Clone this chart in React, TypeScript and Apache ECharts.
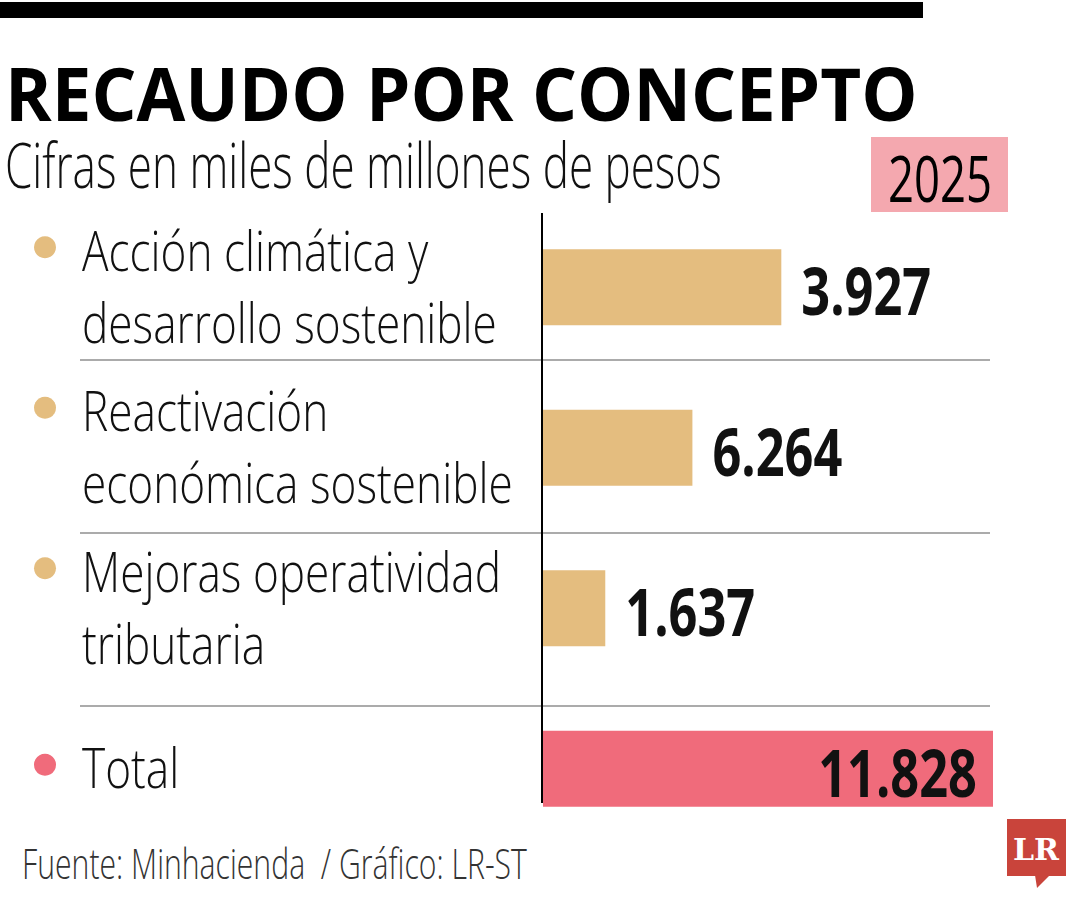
import React, { useEffect, useRef } from "react";
import * as echarts from "echarts";

// ---------- data ----------
const categories = [
  "Acción climática y\ndesarrollo sostenible",
  "Reactivación\neconómica sostenible",
  "Mejoras operatividad\ntributaria",
  "Total",
];
// values printed next to each bar (miles de millones de pesos)
const printedValues = [3927, 6264, 1637, 11828];
// bar lengths as drawn in the reference graphic (the first two rows are drawn
// with each other's lengths relative to their printed labels)
const drawnBarLengths = [6264, 3927, 1637, 11828];

const titleText = "RECAUDO POR CONCEPTO";
const subtitleText = "Cifras en miles de millones de pesos";
const yearText = "2025";
const footerText = "Fuente: Minhacienda  / Gráfico: LR-ST";

const TAN = "#E4BD7F";
const PINK = "#F06B7B";
const barColors = [TAN, TAN, TAN, PINK];

const SANS = "'Open Sans', 'Noto Sans', 'Liberation Sans', sans-serif";

function fmt(n: number): string {
  return String(n).replace(/\B(?=(\d{3})+(?!\d))/g, ".");
}

let ctx: CanvasRenderingContext2D | null = null;
function measure(text: string, font: string): number {
  if (!ctx) ctx = document.createElement("canvas").getContext("2d");
  ctx!.font = font;
  return ctx!.measureText(text).width;
}

export default function App() {
  const ref = useRef<HTMLDivElement>(null);

  useEffect(() => {
    const chart = echarts.init(ref.current!, null, { renderer: "svg" });

    // horizontal condensing factors so the texts take the reference widths
    const labelSize = 56;
    const labelScale = 415 / measure("desarrollo sostenible", `300 ${labelSize}px ${SANS}`);
    const valueSize = 67;
    const valueScale = 130 / measure("3.927", `bold ${valueSize}px ${SANS}`);
    const titleSize = 74;
    const titleScale = 913 / measure(titleText, `bold ${titleSize}px ${SANS}`);
    const subSize = 62;
    const subScale = 717 / measure(subtitleText, `300 ${subSize}px ${SANS}`);
    const yearSize = 64;
    const yearScale = 104 / measure(yearText, `400 ${yearSize}px ${SANS}`);
    const footSize = 42;
    const footScale = 505 / measure(footerText, `300 ${footSize}px ${SANS}`);
    const LINE_H = 72;

    const option: any = {
      animation: false,
      backgroundColor: "#ffffff",
      grid: { left: 543, right: 87, top: 207, bottom: 51, containLabel: false },
      xAxis: { type: "value", min: 0, max: 11828, show: false },
      yAxis: {
        type: "category",
        data: categories,
        inverse: true,
        axisLine: { show: false },
        axisTick: { show: false },
        splitLine: { show: false },
        axisLabel: { show: false },
      },
      series: [
        {
          type: "bar",
          silent: true,
          barWidth: 76,
          data: drawnBarLengths.map((v, i) => ({ value: v, itemStyle: { color: barColors[i] } })),
        },
        {
          // category labels (with bullets) and printed values, placed through the axes
          type: "custom",
          silent: true,
          clip: false,
          z: 5,
          data: drawnBarLengths.map((v, i) => [v, i]),
          encode: { x: 0, y: 1 },
          renderItem: (params: any, api: any) => {
            const i = params.dataIndex;
            const end = api.coord([api.value(0), i]);
            const base = api.coord([0, i]);
            const cy = base[1] - 2;
            const isTotal = i === categories.length - 1;
            const lines = categories[i].split("\n");
            const firstY = cy - ((lines.length - 1) * LINE_H) / 2;
            const children: any[] = [
              {
                type: "circle",
                shape: { cx: base[0] - 498, cy: firstY - 2, r: 11 },
                style: { fill: barColors[i] },
              },
            ];
            lines.forEach((ln, k) => {
              children.push({
                type: "text",
                x: base[0] - 461,
                y: firstY + k * LINE_H,
                scaleX: labelScale,
                style: {
                  text: ln,
                  fontFamily: SANS,
                  fontWeight: 300,
                  fontSize: labelSize,
                  fill: "#111111",
                  align: "left",
                  verticalAlign: "middle",
                },
              });
            });
            children.push({
              type: "text",
              x: isTotal ? end[0] - 16 : end[0] + 20,
              y: base[1] + 2,
              scaleX: valueScale,
              style: {
                text: fmt(printedValues[i]),
                fontFamily: SANS,
                fontWeight: "bold",
                fontSize: valueSize,
                fill: "#111111",
                align: isTotal ? "right" : "left",
                verticalAlign: "middle",
              },
            });
            return { type: "group", children };
          },
        },
      ],
      graphic: [
        { type: "rect", shape: { x: 0, y: 2, width: 923, height: 16 }, style: { fill: "#000000" } },
        {
          type: "text",
          x: 5,
          y: 92,
          scaleX: titleScale,
          style: {
            text: titleText,
            fontFamily: SANS,
            fontWeight: "bold",
            fontSize: titleSize,
            fill: "#000000",
            align: "left",
            verticalAlign: "middle",
          },
        },
        {
          type: "text",
          x: 5,
          y: 164,
          scaleX: subScale,
          style: {
            text: subtitleText,
            fontFamily: SANS,
            fontWeight: 300,
            fontSize: subSize,
            fill: "#111111",
            align: "left",
            verticalAlign: "middle",
          },
        },
        { type: "rect", shape: { x: 871, y: 137, width: 137, height: 75 }, style: { fill: "#F4A8AF" } },
        {
          type: "text",
          x: 940,
          y: 177,
          scaleX: yearScale,
          style: {
            text: yearText,
            fontFamily: SANS,
            fontWeight: 400,
            fontSize: yearSize,
            fill: "#000000",
            align: "center",
            verticalAlign: "middle",
          },
        },
        ...[360, 533, 706].map((y) => ({
          type: "line",
          shape: { x1: 80, y1: y, x2: 990, y2: y },
          style: { stroke: "#ABABAB", lineWidth: 2 },
        })),
        {
          type: "line",
          z: 10,
          shape: { x1: 542, y1: 213, x2: 542, y2: 803 },
          style: { stroke: "#000000", lineWidth: 2 },
        },
        {
          type: "text",
          x: 22,
          y: 863,
          scaleX: footScale,
          style: {
            text: footerText,
            fontFamily: SANS,
            fontWeight: 300,
            fontSize: footSize,
            fill: "#333333",
            align: "left",
            verticalAlign: "middle",
          },
        },
        { type: "rect", shape: { x: 1007, y: 819, width: 59, height: 57 }, style: { fill: "#C9443B" } },
        {
          type: "polygon",
          shape: { points: [[1035, 875], [1050, 875], [1037, 888]] },
          style: { fill: "#C9443B" },
        },
        {
          type: "text",
          x: 1036,
          y: 849,
          style: {
            text: "LR",
            fontFamily: "'DejaVu Serif', 'Liberation Serif', serif",
            fontWeight: "bold",
            fontSize: 30,
            fill: "#ffffff",
            align: "center",
            verticalAlign: "middle",
          },
        },
      ],
    };

    chart.setOption(option);
    return () => chart.dispose();
  }, []);

  return (
    <div
      ref={ref}
      style={{ position: "absolute", left: 0, top: 0, width: 1080, height: 900, background: "#ffffff" }}
    />
  );
}
